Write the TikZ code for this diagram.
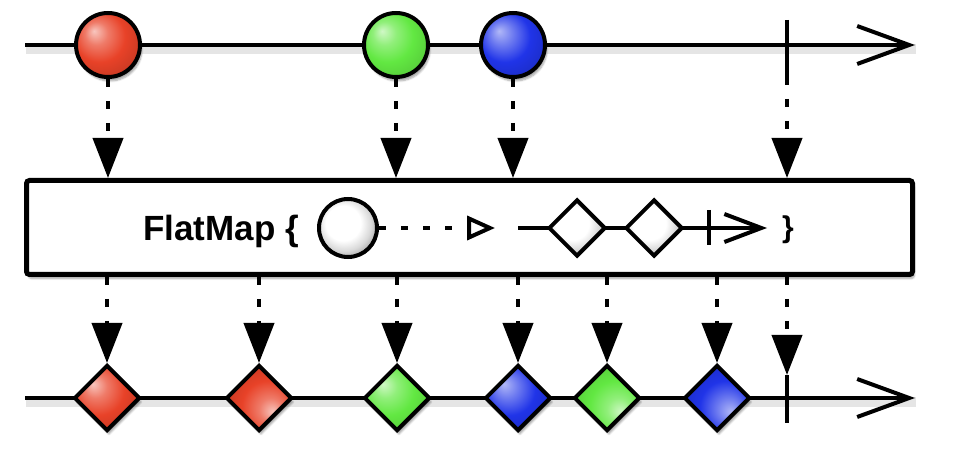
\documentclass[tikz,border=0pt]{standalone}
\usepackage{fontspec}
\newfontfamily\lsans{Liberation Sans}
\usetikzlibrary{arrows.meta,shapes.geometric,shadows.blur}
\definecolor{mred}{RGB}{232,66,40}
\definecolor{mgreen}{RGB}{98,232,66}
\definecolor{mblue}{RGB}{32,52,232}
\pgfdeclareradialshading{redhl}{\pgfpoint{-11bp}{11bp}}{color(0bp)=(white!70!mred); color(9bp)=(mred!70!white); color(20bp)=(mred); color(30bp)=(mred!88!black); color(40bp)=(mred!68!black); color(50bp)=(mred!68!black)}
\pgfdeclareradialshading{greenhl}{\pgfpoint{-11bp}{11bp}}{color(0bp)=(white!70!mgreen); color(9bp)=(mgreen!70!white); color(20bp)=(mgreen); color(30bp)=(mgreen!90!black); color(40bp)=(mgreen!72!black); color(50bp)=(mgreen!72!black)}
\pgfdeclareradialshading{bluehl}{\pgfpoint{-11bp}{11bp}}{color(0bp)=(white!65!mblue); color(9bp)=(mblue!65!white); color(20bp)=(mblue); color(30bp)=(mblue!88!black); color(40bp)=(mblue!68!black); color(50bp)=(mblue!68!black)}
\pgfdeclareradialshading{whitehl}{\pgfpoint{-6bp}{6bp}}{color(0bp)=(white); color(15bp)=(white); color(23bp)=(black!15); color(31bp)=(black!40); color(50bp)=(black!40)}
\begin{document}
\begin{tikzpicture}[x=1pt,y=-1pt,
  soft/.style={blur shadow={shadow xshift=2pt,shadow yshift=-4pt,shadow blur steps=6,shadow opacity=35}},
  lshadow/.style={preaction={-,draw=black,opacity=0.10,line width=10pt,transform canvas={shift={(1pt,-4pt)}}}},
  timeline/.style={line width=4pt,lshadow,-{Straight Barb[length=52pt,width=38pt]}},
  tickline/.style={line width=4pt},
  ballnode/.style={circle,draw=black,line width=4pt,minimum size=64pt,inner sep=0pt,soft},
  gem/.style={diamond,aspect=1,draw=black,line width=4pt,minimum size=66pt,inner sep=0pt,soft},
  flow/.style={line width=4pt,dash pattern=on 8pt off 14pt,-{Triangle[length=40pt,width=30pt]}},
  opbox/.style={rectangle,draw=black,fill=white,line width=5pt,rounded corners=3pt,minimum width=886pt,minimum height=94pt,soft},
  smallball/.style={circle,draw=black,line width=4pt,minimum size=58pt,inner sep=0pt,shading=whitehl},
  smallgem/.style={diamond,aspect=1,draw=black,line width=4pt,minimum size=57pt,inner sep=0pt,shading=whitehl},
  innerline/.style={line width=4pt},
]
\useasboundingbox (0,0) rectangle (956,454);
% top timeline
\coordinate (ts) at (25,45);
\coordinate (te) at (915,45);
\draw[timeline] (ts) -- (te);
\coordinate (tt1) at (787,20);
\coordinate (tt2) at (787,77);
\draw[tickline] (tt1) -- (tt2);
\node[ballnode,shading=redhl] (c1) at (108,45) {};
\node[ballnode,shading=greenhl] (c2) at (396,45) {};
\node[ballnode,shading=bluehl] (c3) at (513,45) {};
% operator box
\node[opbox] (box) at (469.5,227.5) {};
\draw[flow] (c1.south) -- (c1.south |- box.north);
\draw[flow] (c2.south) -- (c2.south |- box.north);
\draw[flow] (c3.south) -- (c3.south |- box.north);
\draw[flow] (tt2) -- (tt2 |- box.north);
% box contents
\node[anchor=base west,inner sep=0pt,font=\lsans\bfseries\fontsize{35}{40}\selectfont] (fm) at (143,241) {FlatMap \{};
\node[smallball] (ic) at (348,228) {};
\coordinate (tri) at (495,228);
\draw[line width=4pt,dash pattern=on 7pt off 15pt,-{Triangle[open,length=28pt,width=24pt]}] (ic.east) -- (tri);
\coordinate (il1) at (518,228);
\coordinate (il2) at (767,228);
\draw[innerline,-{Straight Barb[length=37pt,width=28pt]}] (il1) -- (il2);
\node[smallgem] (id1) at (577,228) {};
\node[smallgem] (id2) at (654,228) {};
\coordinate (it1) at (709,210);
\coordinate (it2) at (709,245);
\draw[tickline] (it1) -- (it2);
\node[anchor=base west,inner sep=0pt,font=\lsans\bfseries\fontsize{30}{34}\selectfont] (cb) at (782,238) {\}};
% bottom timeline
\coordinate (bs) at (25,398);
\coordinate (be) at (915,398);
\draw[timeline] (bs) -- (be);
\coordinate (bt1) at (787,375);
\coordinate (bt2) at (787,423);
\draw[tickline] (bt1) -- (bt2);
\node[gem,shading=redhl] (d1) at (107,398) {};
\node[gem,shading=redhl,shading angle=180] (d2) at (259,398) {};
\node[gem,shading=greenhl] (d3) at (397,398) {};
\node[gem,shading=bluehl] (d4) at (518,398) {};
\node[gem,shading=greenhl,shading angle=180] (d5) at (607,398) {};
\node[gem,shading=bluehl,shading angle=180] (d6) at (717,398) {};
\foreach \d in {d1,d2,d3,d4,d5,d6}
  \draw[flow] (\d.north |- box.south) -- (\d.north);
\draw[flow] (bt1 |- box.south) -- (bt1);
\end{tikzpicture}
\end{document}
